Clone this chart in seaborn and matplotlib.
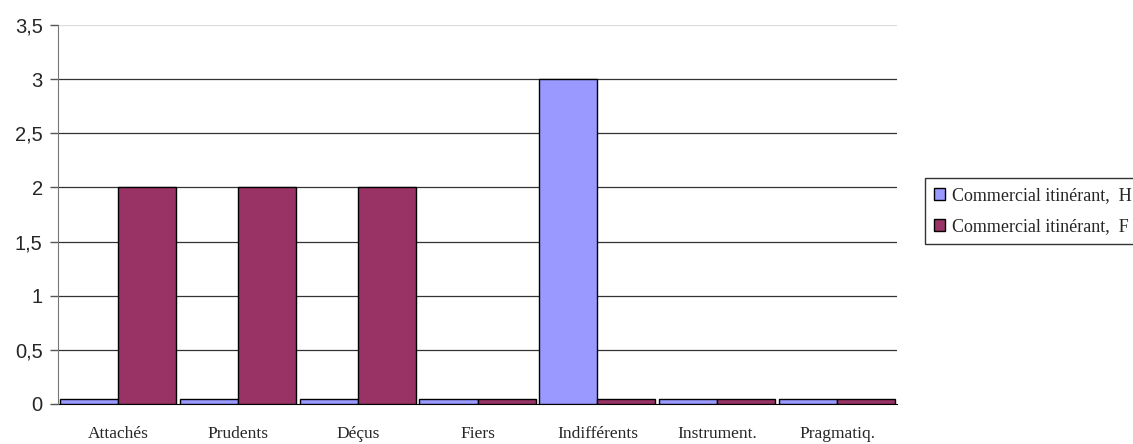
import pandas as pd
import numpy as np
import seaborn as sns
import matplotlib.pyplot as plt

# Categories and series values
categories = ["Attachés", "Prudents", "Déçus", "Fiers", "Indifférents", "Instrument.", "Pragmatiq."]
series_names = ["Commercial itinérant,  H", "Commercial itinérant,  F"]
values_h = [0.05, 0.05, 0.05, 0.05, 3.0, 0.05, 0.05]
values_f = [2.0, 2.0, 2.0, 0.05, 0.05, 0.05, 0.05]
y_ticks = [0, 0.5, 1, 1.5, 2, 2.5, 3, 3.5]
y_tick_labels = ["0", "0,5", "1", "1,5", "2", "2,5", "3", "3,5"]

colors = ["#9999FF", "#993366"]


def build_frame() -> pd.DataFrame:
    df = pd.DataFrame({
        "categorie": categories * 2,
        "valeur": values_h + values_f,
        "serie": [series_names[0]] * len(categories) + [series_names[1]] * len(categories),
    })
    return df


def main():
    sns.set_style("white")
    df = build_frame()

    fig = plt.figure(figsize=(11.33, 4.44), dpi=100)
    ax = fig.add_axes([0.0512, 0.0901, 0.7405, 0.8536])

    sns.barplot(data=df, x="categorie", y="valeur", hue="serie",
                palette=colors, saturation=1, edgecolor="black", linewidth=1.0,
                width=0.97, gap=0.0, ax=ax, zorder=3)

    ax.set_ylim(0, 3.5)
    ax.set_xlim(-0.5, len(categories) - 0.5)
    ax.set_yticks(y_ticks)
    ax.set_yticklabels(y_tick_labels, fontfamily="Liberation Sans", fontsize=14.5)
    ax.set_xticks(range(len(categories)))
    ax.set_xticklabels(categories, fontfamily="Liberation Serif", fontsize=12.5)
    ax.tick_params(axis="x", length=0, pad=16)
    ax.tick_params(axis="y", length=6, width=1, color="#555555", pad=5, direction="out", left=True)
    ax.set_xlabel("")
    ax.set_ylabel("")

    # Horizontal gridlines
    for t in y_ticks[1:-1]:
        ax.axhline(t, color="#333333", linewidth=0.9, zorder=1)
    ax.axhline(3.5, color="#dddddd", linewidth=0.9, zorder=1)

    for side in ["top", "right"]:
        ax.spines[side].set_visible(False)
    ax.spines["left"].set_color("#777777")
    ax.spines["bottom"].set_color("black")
    ax.spines["left"].set_zorder(4)

    # Legend, sitting against the right edge like the reference
    handles, labels = ax.get_legend_handles_labels()
    leg = ax.legend(handles, labels, loc="upper left", bbox_to_anchor=(1.033, 0.595),
                    prop={"family": "Liberation Serif", "size": 13},
                    frameon=True, fancybox=False, edgecolor="black",
                    handlelength=0.65, handleheight=0.65, handletextpad=0.35,
                    labelspacing=0.75, borderpad=0.5, borderaxespad=0)
    leg.get_frame().set_linewidth(1.0)
    for h in leg.legend_handles:
        h.set_edgecolor("black")
        h.set_linewidth(1.0)

    fig.savefig("out.png", dpi=100)


if __name__ == "__main__":
    main()
